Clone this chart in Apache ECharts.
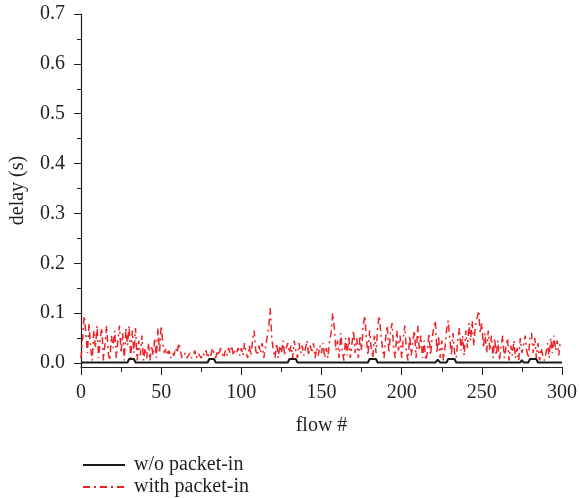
<!DOCTYPE html>
<html>
<head>
<meta charset="utf-8">
<script src="https://cdn.jsdelivr.net/npm/echarts@6/dist/echarts.min.js"></script>
<style>
  html, body { margin: 0; padding: 0; background: #fff; }
  #chart { width: 580px; height: 498px; }
</style>
</head>
<body>
<div id="chart"></div>
<script>
// delay with packet-in, one value per flow (0..299)
const withPacketIn = [
  0.01, 0.05, 0.095, 0.06, 0.02, 0.08, 0.03, 0.005, 0.065, 0.03,
  0.075, 0.01, 0.05, 0.07, 0.005, 0.04, 0.075, 0.02, 0.005, 0.055,
  0.03, 0.065, 0.01, 0.045, 0.075, 0.02, 0.06, 0.005, 0.07, 0.035,
  0.075, 0.01, 0.065, 0.02, 0.07, 0.005, 0.045, 0.015, 0.055, 0.005,
  0.03, 0.01, 0.04, 0.005, 0.035, 0.015, 0.05, 0.01, 0.07, 0.02,
  0.075, 0.04, 0.02, 0.03, 0.015, 0.025, 0.01, 0.02, 0.015, 0.03,
  0.02, 0.04, 0.025, 0.01, 0.015, 0.02, 0.01, 0.015, 0.02, 0.01,
  0.015, 0.025, 0.01, 0.02, 0.015, 0.01, 0.02, 0.015, 0.025, 0.01,
  0.02, 0.015, 0.03, 0.02, 0.01, 0.025, 0.015, 0.03, 0.02, 0.01,
  0.025, 0.015, 0.03, 0.02, 0.035, 0.015, 0.025, 0.02, 0.03, 0.015,
  0.03, 0.015, 0.04, 0.02, 0.01, 0.035, 0.015, 0.045, 0.065, 0.025,
  0.015, 0.035, 0.02, 0.04, 0.01, 0.03, 0.05, 0.07, 0.11, 0.05,
  0.025, 0.01, 0.04, 0.01, 0.035, 0.02, 0.045, 0.015, 0.03, 0.04,
  0.02, 0.035, 0.01, 0.045, 0.025, 0.01, 0.04, 0.02, 0.035, 0.015,
  0.03, 0.045, 0.015, 0.035, 0.02, 0.04, 0.01, 0.03, 0.015, 0.035,
  0.02, 0.04, 0.01, 0.03, 0.01, 0.045, 0.06, 0.1, 0.07, 0.025,
  0.045, 0.01, 0.06, 0.02, 0.005, 0.05, 0.015, 0.055, 0.01, 0.04,
  0.065, 0.02, 0.05, 0.01, 0.055, 0.025, 0.075, 0.095, 0.05, 0.015,
  0.065, 0.03, 0.01, 0.055, 0.02, 0.07, 0.095, 0.06, 0.03, 0.01,
  0.05, 0.075, 0.02, 0.06, 0.08, 0.03, 0.01, 0.065, 0.025, 0.055,
  0.01, 0.05, 0.075, 0.02, 0.005, 0.055, 0.015, 0.045, 0.065, 0.01,
  0.075, 0.025, 0.055, 0.01, 0.045, 0.005, 0.02, 0.06, 0.015, 0.05,
  0.07, 0.085, 0.02, 0.055, 0.01, 0.045, 0.005, 0.03, 0.065, 0.085,
  0.05, 0.015, 0.06, 0.02, 0.01, 0.045, 0.07, 0.025, 0.055, 0.015,
  0.065, 0.03, 0.08, 0.045, 0.085, 0.035, 0.075, 0.09, 0.105, 0.06,
  0.08, 0.03, 0.06, 0.02, 0.065, 0.025, 0.055, 0.01, 0.05, 0.015,
  0.045, 0.005, 0.035, 0.055, 0.01, 0.03, 0.05, 0.005, 0.035, 0.015,
  0.045, 0.01, 0.03, 0.005, 0.05, 0.02, 0.035, 0.055, 0.025, 0.01,
  0.05, 0.06, 0.02, 0.05, 0.01, 0.04, 0.005, 0.03, 0.015, 0.005,
  0.02, 0.04, 0.01, 0.05, 0.02, 0.055, 0.025, 0.045, 0.015, 0.045
];

// delay without packet-in: flat with small bumps, as [flow, delay] breakpoints
const withoutPacketIn = [
  [0, 0.001], [29, 0.001], [30, 0.008], [33, 0.008], [34, 0.001],
  [79, 0.001], [80, 0.008], [83, 0.008], [84, 0.001],
  [118, 0.001], [119, 0.004], [120, 0.001],
  [129, 0.001], [130, 0.008], [134, 0.008], [135, 0.001],
  [147, 0.001], [148, 0.004], [149, 0.001],
  [179, 0.001], [180, 0.008], [184, 0.008], [185, 0.001],
  [221, 0.001], [222.5, 0.007], [224, 0.001],
  [228, 0.001], [229, 0.008], [233, 0.008], [234, 0.001],
  [274, 0.001], [275, 0.006], [276, 0.001],
  [279, 0.001], [280, 0.008], [284, 0.008], [285, 0.001],
  [300, 0.001]
];

const yTicks = [0, 0.1, 0.2, 0.3, 0.4, 0.5, 0.6, 0.7];
const yMinorTicks = [0.05, 0.15, 0.25, 0.35, 0.45, 0.55, 0.65];
const seriesNames = ['w/o packet-in', 'with packet-in'];

const font = 'Liberation Serif';
const textColor = '#231f20';
const fontSize = 20;

const chart = echarts.init(document.getElementById('chart'));

const redData = withPacketIn.map((v, i) => [i, v]);

const option = {
  animation: false,
  backgroundColor: '#fff',
  grid: { left: 81, right: 15, top: 14, bottom: 131 },
  legend: {
    orient: 'vertical',
    left: 82,
    top: 455,
    padding: 0,
    itemWidth: 42,
    itemHeight: 10,
    itemGap: 2,
    itemStyle: { opacity: 0 },
    textStyle: { fontFamily: font, fontSize: fontSize, color: textColor, padding: [0, 0, 0, 4] },
    data: seriesNames
  },
  xAxis: {
    type: 'value',
    min: 0,
    max: 300,
    interval: 50,
    name: 'flow #',
    nameLocation: 'middle',
    nameGap: 49,
    nameTextStyle: { fontFamily: font, fontSize: fontSize, color: textColor },
    axisLine: { onZero: false, lineStyle: { color: '#231f20', width: 1.2 } },
    axisTick: { inside: false, length: 8, lineStyle: { color: '#231f20' } },
    minorTick: { show: true, splitNumber: 2, length: 5, lineStyle: { color: '#231f20' } },
    axisLabel: { margin: 16, fontFamily: font, fontSize: fontSize, color: textColor },
    splitLine: { show: false }
  },
  yAxis: [
    {
      type: 'value',
      min: -0.008,
      max: 0.7,
      name: 'delay (s)',
      nameLocation: 'middle',
      nameGap: 53,
      nameTextStyle: { fontFamily: font, fontSize: fontSize, color: textColor },
      axisLine: { show: true, onZero: false, lineStyle: { color: '#231f20', width: 1.2 } },
      axisTick: { show: true, length: 7, customValues: yTicks, lineStyle: { color: '#231f20' } },
      axisLabel: {
        margin: 16,
        fontFamily: font,
        fontSize: fontSize,
        color: textColor,
        customValues: yTicks,
        formatter: (v) => v.toFixed(1)
      },
      splitLine: { show: false }
    },
    {
      type: 'value',
      min: -0.008,
      max: 0.7,
      position: 'left',
      axisLine: { show: false },
      axisTick: { show: true, length: 4, customValues: yMinorTicks, lineStyle: { color: '#231f20' } },
      axisLabel: { show: false },
      splitLine: { show: false }
    }
  ],
  series: [
    {
      name: seriesNames[0],
      type: 'line',
      data: withoutPacketIn,
      showSymbol: false,
      symbol: 'none',
      z: 3,
      lineStyle: { color: '#1a1a1a', width: 2 },
      itemStyle: { color: '#1a1a1a' }
    },
    {
      name: seriesNames[1],
      type: 'line',
      data: redData,
      showSymbol: false,
      symbol: 'none',
      z: 2,
      lineStyle: { color: '#ec2227', width: 1.5, type: [7, 4, 2, 4] },
      itemStyle: { color: '#ec2227' }
    }
  ]
};

chart.setOption(option);
</script>
</body>
</html>
